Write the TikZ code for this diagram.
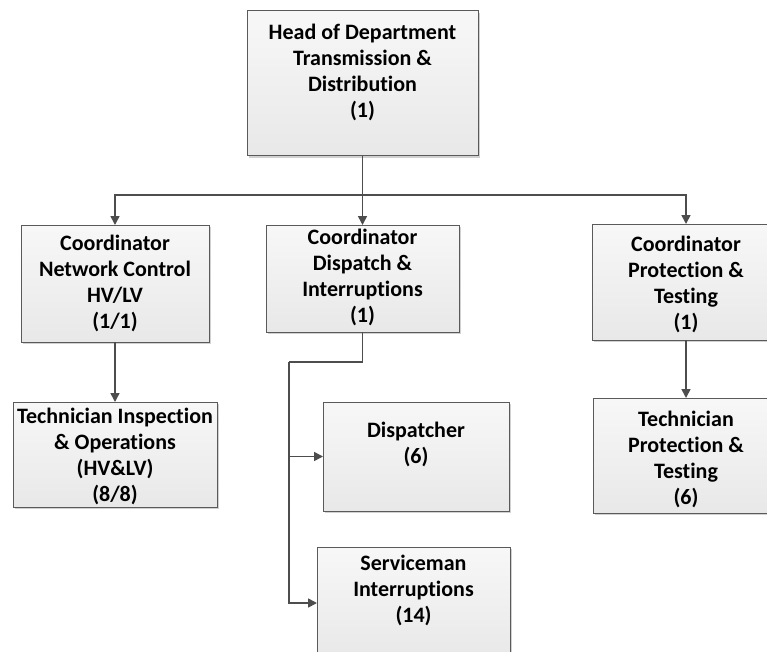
\documentclass[tikz,border=0pt]{standalone}
\usepackage{fontspec}
\setmainfont{Carlito}[Ligatures=NoCommon]
\usetikzlibrary{arrows.meta,shadows}
\definecolor{edgegray}{HTML}{4D4D4D}
\definecolor{boxline}{HTML}{5A5A5A}
\begin{document}
\begin{tikzpicture}[x=1pt,y=-1pt,
  box/.style={draw=boxline, line width=1pt, inner sep=0pt, outer sep=0pt,
    top color=white!97!black, bottom color=white!91!black,
    drop shadow={shadow xshift=1.6pt, shadow yshift=-1.6pt, fill=black!30, opacity=0.6}},
  txt/.style={align=center, inner sep=0pt, font=\bfseries\fontsize{22}{26}\selectfont},
  link/.style={draw=edgegray, line width=1.6pt},
  arr/.style={link, -{Triangle[length=9pt,width=9pt]}}]
\useasboundingbox (0,0) rectangle (767,652);

% boxes
\node[box, minimum width=231pt, minimum height=145pt] (head) at (362.5,83.5) {};
\node[box, minimum width=188pt, minimum height=117pt] (nc)   at (115,283.5) {};
\node[box, minimum width=193pt, minimum height=107pt] (di)   at (362.5,278.5) {};
\node[box, minimum width=188pt, minimum height=116pt] (pt)   at (686,282) {};
\node[box, minimum width=204pt, minimum height=105pt] (ti)   at (115,454.5) {};
\node[box, minimum width=186pt, minimum height=115pt] (tpt)  at (686,455.5) {};
\node[box, minimum width=186pt, minimum height=109pt] (disp) at (416,456.5) {};
\node[box, minimum width=193pt, minimum height=112pt] (serv) at (413.5,603) {};

% labels
\node[txt] (headT) at (362.5,72) {Head of Department\\Transmission \&\\Distribution\\(1)};
\node[txt] (ncT)   at (115,283) {Coordinator\\Network Control\\HV/LV\\(1/1)};
\node[txt] (diT)   at (362.5,277) {Coordinator\\Dispatch \&\\Interruptions\\(1)};
\node[txt] (ptT)   at (686,284) {Coordinator\\Protection \&\\Testing\\(1)};
\node[txt] (tiT)   at (115,456) {Technician Inspection\\\& Operations\\(HV\&LV)\\(8/8)};
\node[txt] (tptT)  at (686,459) {Technician\\Protection \&\\Testing\\(6)};
\node[txt] (dispT) at (416,444) {Dispatcher\\(6)};
\node[txt] (servT) at (413.5,590) {Serviceman\\Interruptions\\(14)};

% connectors
\coordinate (bus) at (362.5,195);
\coordinate (split) at (289,362);
\draw[link] (head.south) -- (bus);
\draw[arr] (bus) -| (nc.north);
\draw[arr] (bus) -- (di.north);
\draw[arr] (bus) -| (pt.north);
\draw[arr] (nc.south) -- (ti.north);
\draw[arr] (pt.south) -- (tpt.north);
\draw[link] (di.south) |- (split);
\draw[arr] (split) |- (disp.west);
\draw[arr] (split) |- (serv.west);
\end{tikzpicture}
\end{document}
